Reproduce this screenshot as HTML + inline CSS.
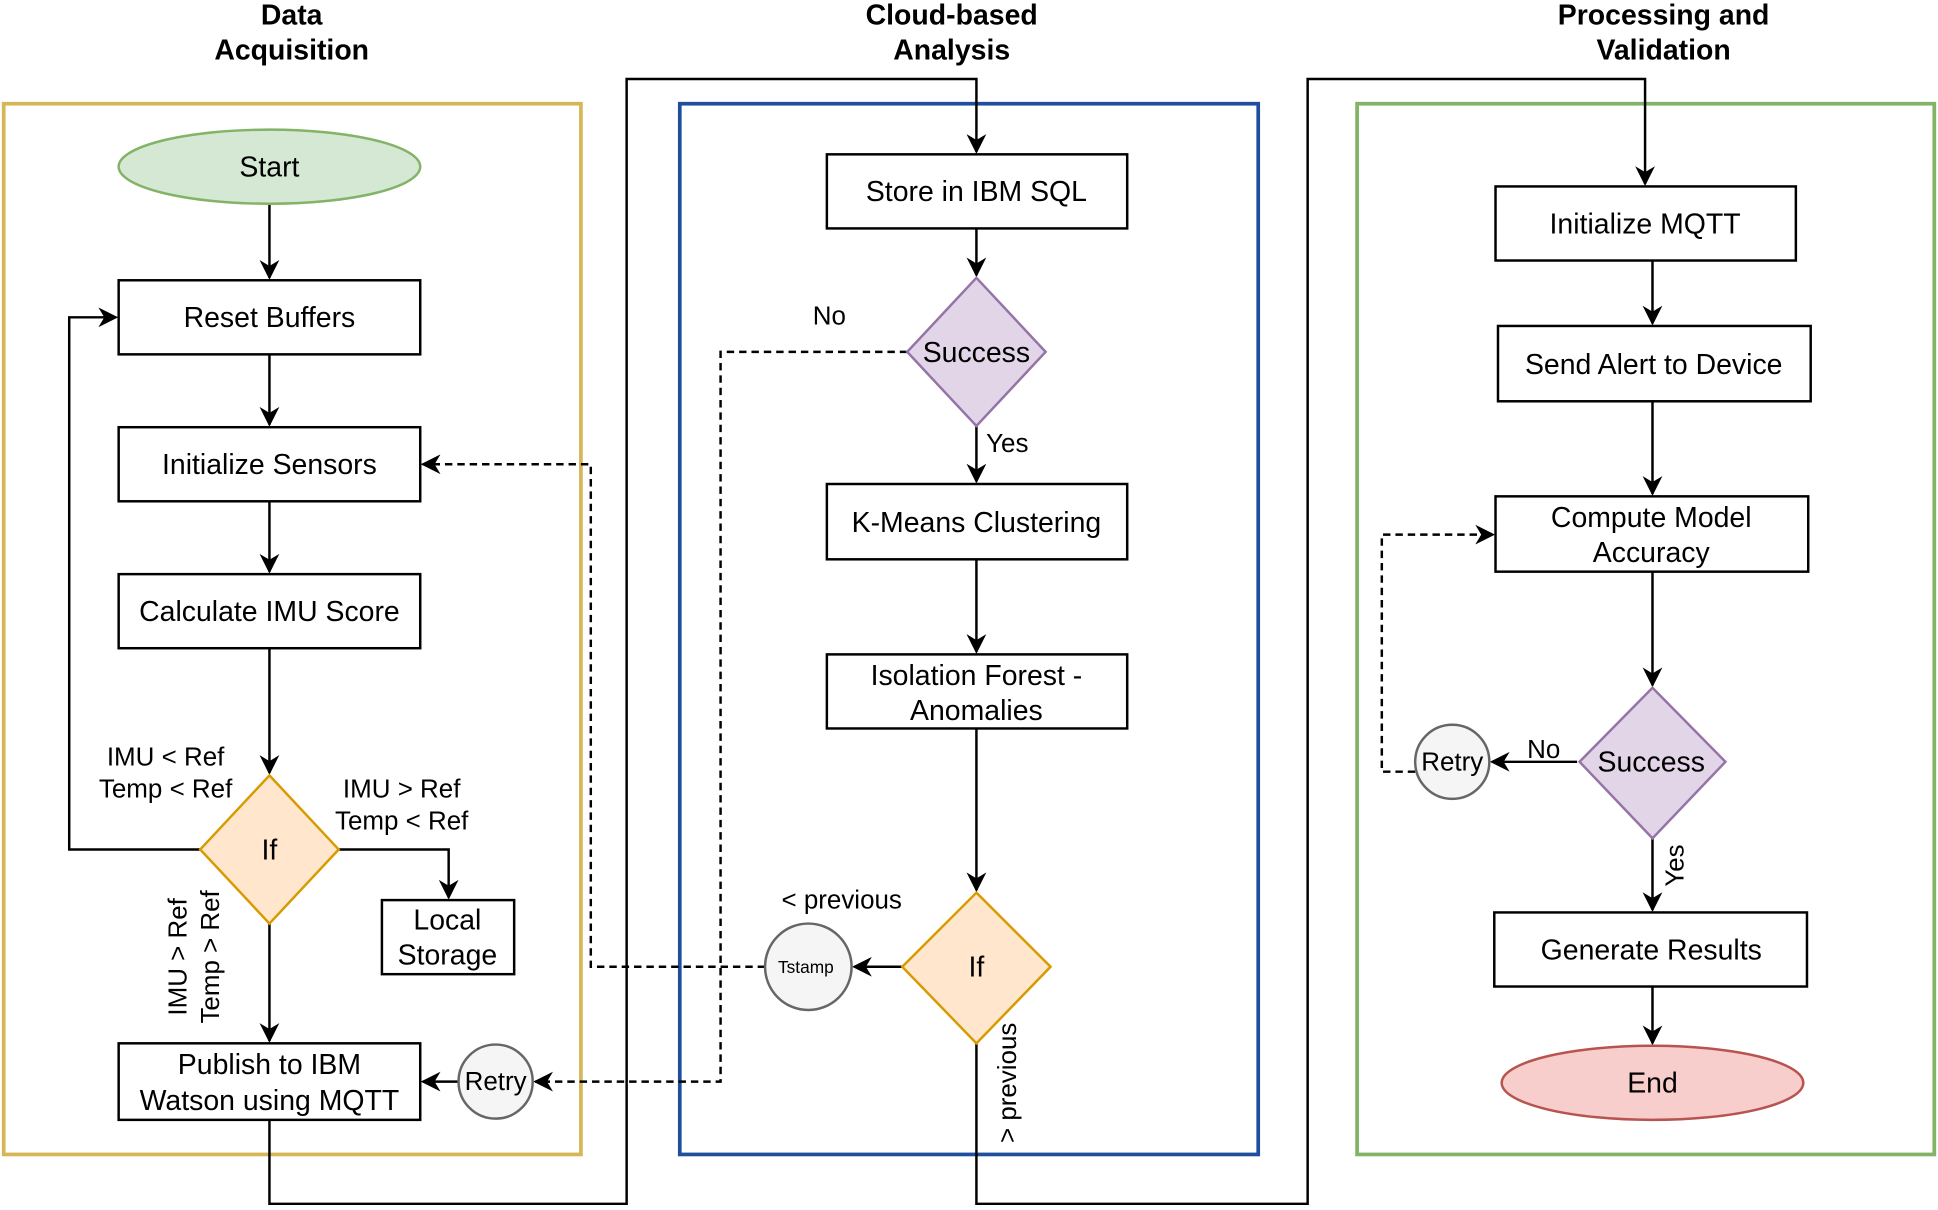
<!DOCTYPE html>
<html><head><meta charset="utf-8"><style>html,body{margin:0;padding:0;background:#fff}svg{display:block}</style></head>
<body>
<svg width="1938" height="1210" viewBox="0 0 1568 980" preserveAspectRatio="none" xmlns="http://www.w3.org/2000/svg" font-family="Liberation Sans, sans-serif">
<defs>
<marker id="b" viewBox="0 0 10 10" refX="9" refY="5" markerWidth="16" markerHeight="16" markerUnits="userSpaceOnUse" orient="auto"><path d="M0,0 L10,5 L0,10 L3,5 z" fill="#000"/></marker>
</defs>
<g font-weight="bold" font-size="23" text-anchor="middle">
<text x="236" y="20">Data</text><text x="236" y="48">Acquisition</text>
<text x="770" y="20">Cloud-based</text><text x="770" y="48">Analysis</text>
<text x="1346" y="20">Processing and</text><text x="1346" y="48">Validation</text>
</g>
<rect x="3" y="84" width="467" height="851" fill="none" stroke="#d6b656" stroke-width="3"/>
<rect x="550" y="84" width="468" height="851" fill="none" stroke="#1f4e9c" stroke-width="3"/>
<rect x="1098" y="84" width="467" height="851" fill="none" stroke="#82b366" stroke-width="3"/>

<g stroke="#000" stroke-width="2" fill="none" marker-end="url(#b)">
<path d="M218,165 V225"/>
<path d="M218,287 V344"/>
<path d="M218,406 V463"/>
<path d="M218,525 V626"/>
<path d="M162,688 H56 V257 H94"/>
<path d="M274,688 H363 V727"/>
<path d="M218,748 V843"/>
<path d="M371,876 H342"/>
<path d="M218,907 V975 H507 V64 H790 V123"/>
<path d="M790,185 V223"/>
<path d="M790,345 V390"/>
<path d="M790,453 V528"/>
<path d="M790,590 V721"/>
<path d="M730,783 H691"/>
<path d="M790,845 V975 H1058 V64 H1331 V149"/>
<path d="M1337,211 V262"/>
<path d="M1337,325 V400"/>
<path d="M1337,463 V555"/>
<path d="M1276,617 H1207"/>
<path d="M1337,679 V737"/>
<path d="M1337,799 V845"/>
</g>
<g stroke="#000" stroke-width="2" fill="none" stroke-dasharray="6,4" marker-end="url(#b)">
<path d="M734,285 H583 V876 H433"/>
<path d="M619,783 H478 V376 H342"/>
<path d="M1145,625 H1118 V433 H1208"/>
</g>

<g stroke-width="2">
<ellipse cx="218" cy="135" rx="122" ry="30" fill="#d5e8d4" stroke="#82b366"/>
<rect x="96" y="227" width="244" height="60" fill="#fff" stroke="#000"/>
<rect x="96" y="346" width="244" height="60" fill="#fff" stroke="#000"/>
<rect x="96" y="465" width="244" height="60" fill="#fff" stroke="#000"/>
<polygon points="218,628 274,688 218,748 162,688" fill="#ffe6cc" stroke="#d79b00"/>
<rect x="309" y="729" width="107" height="60" fill="#fff" stroke="#000"/>
<rect x="96" y="845" width="244" height="62" fill="#fff" stroke="#000"/>
<circle cx="401" cy="876" r="30" fill="#f5f5f5" stroke="#666"/>
<rect x="669" y="125" width="243" height="60" fill="#fff" stroke="#000"/>
<polygon points="790,225 846,285 790,345 734,285" fill="#e1d5e7" stroke="#9673a6"/>
<rect x="669" y="392" width="243" height="61" fill="#fff" stroke="#000"/>
<rect x="669" y="530" width="243" height="60" fill="#fff" stroke="#000"/>
<polygon points="790,723 850,783 790,845 730,783" fill="#ffe6cc" stroke="#d79b00"/>
<circle cx="654" cy="783" r="35" fill="#f5f5f5" stroke="#666"/>
<rect x="1210" y="151" width="243" height="60" fill="#fff" stroke="#000"/>
<rect x="1212" y="264" width="253" height="61" fill="#fff" stroke="#000"/>
<rect x="1210" y="402" width="253" height="61" fill="#fff" stroke="#000"/>
<polygon points="1337,557 1396,617 1337,679 1278,617" fill="#e1d5e7" stroke="#9673a6"/>
<circle cx="1175" cy="617" r="30" fill="#f5f5f5" stroke="#666"/>
<rect x="1209" y="739" width="253" height="60" fill="#fff" stroke="#000"/>
<ellipse cx="1337" cy="877" rx="122" ry="30" fill="#f8cecc" stroke="#b85450"/>
</g>

<g font-size="23" text-anchor="middle" fill="#000">
<text x="218" y="143">Start</text>
<text x="218" y="265">Reset Buffers</text>
<text x="218" y="384">Initialize Sensors</text>
<text x="218" y="503">Calculate IMU Score</text>
<text x="218" y="696">If</text>
<text x="362" y="753">Local</text><text x="362" y="781">Storage</text>
<text x="218" y="870">Publish to IBM</text><text x="218" y="899">Watson using MQTT</text>
<text x="401" y="883" font-size="21">Retry</text>
<text x="790" y="163">Store in IBM SQL</text>
<text x="790" y="293">Success</text>
<text x="790" y="431">K-Means Clustering</text>
<text x="790" y="555">Isolation Forest -</text><text x="790" y="583">Anomalies</text>
<text x="790" y="791">If</text>
<text x="652" y="788" font-size="14">Tstamp</text>
<text x="1331" y="189">Initialize MQTT</text>
<text x="1338" y="303">Send Alert to Device</text>
<text x="1336" y="427">Compute Model</text><text x="1336" y="455">Accuracy</text>
<text x="1336" y="625">Success</text>
<text x="1175" y="624" font-size="21">Retry</text>
<text x="1336" y="777">Generate Results</text>
<text x="1337" y="885">End</text>
</g>
<g font-size="21" fill="#000">
<text x="134" y="620" text-anchor="middle">IMU &lt; Ref</text>
<text x="134" y="646" text-anchor="middle">Temp &lt; Ref</text>
<text x="325" y="646" text-anchor="middle">IMU &gt; Ref</text>
<text x="325" y="672" text-anchor="middle">Temp &lt; Ref</text>
<text transform="translate(151,775) rotate(-90)" text-anchor="middle">IMU &gt; Ref</text>
<text transform="translate(177,775) rotate(-90)" text-anchor="middle">Temp &gt; Ref</text>
<text x="671" y="263" text-anchor="middle">No</text>
<text x="815" y="366" text-anchor="middle">Yes</text>
<text x="681" y="736" text-anchor="middle">&lt; previous</text>
<text transform="translate(822,877) rotate(-90)" text-anchor="middle">&gt; previous</text>
<text x="1249" y="614" text-anchor="middle">No</text>
<text transform="translate(1362,701) rotate(-90)" text-anchor="middle">Yes</text>
</g>
</svg>
</body></html>
